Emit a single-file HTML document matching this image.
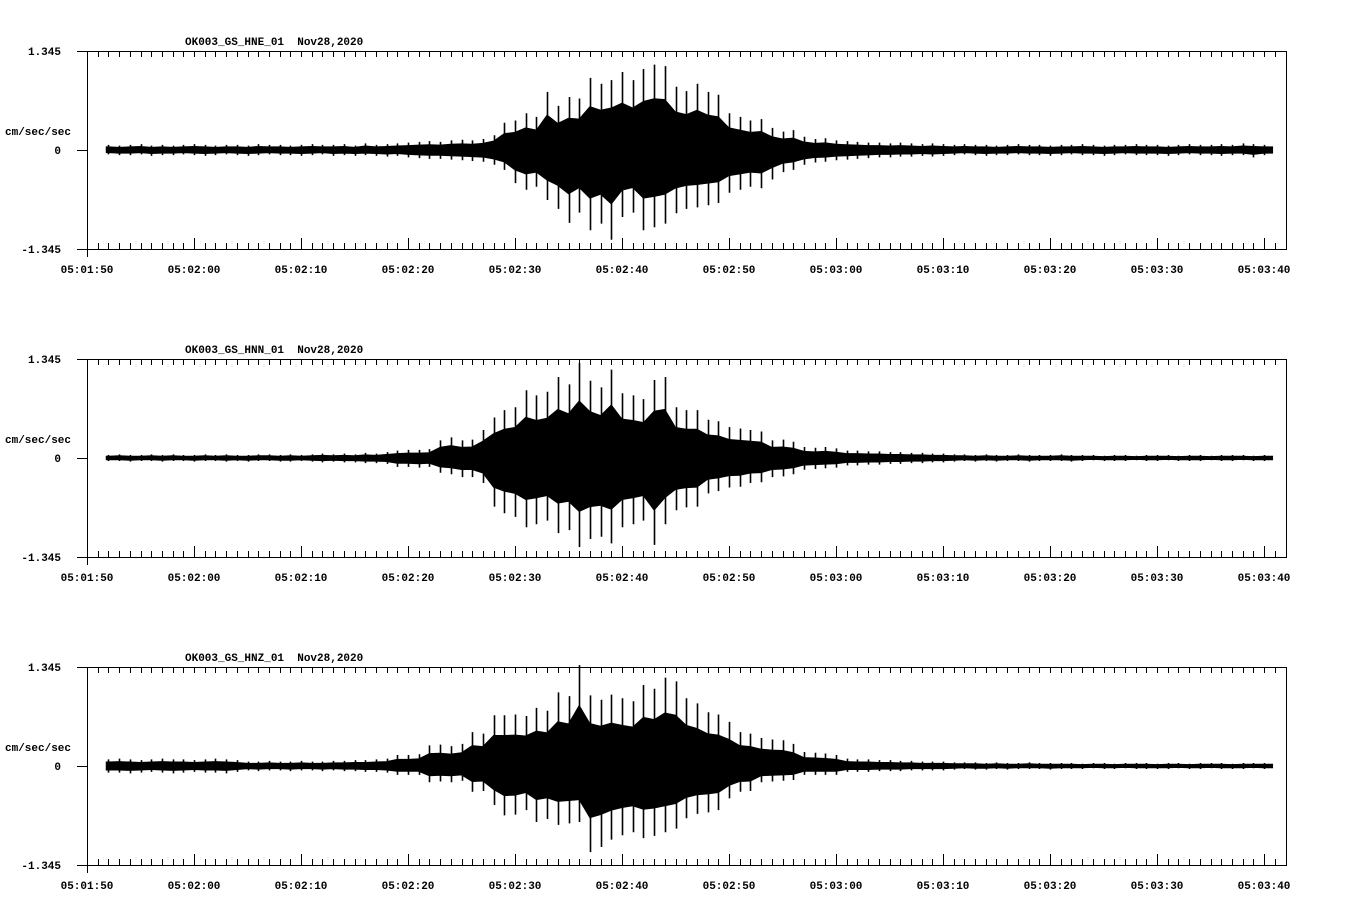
<!DOCTYPE html>
<html><head><meta charset="utf-8"><style>
html,body{margin:0;padding:0;background:#fff;}
svg{display:block;}
text{font-family:"Liberation Mono",monospace;font-weight:bold;font-size:11px;fill:#000;}
</style></head>
<body>
<svg id="chart" width="1358" height="924" xmlns="http://www.w3.org/2000/svg"></svg>
<script>
// Time (seconds after 05:01:50) of each amplitude sample
const seconds = [];
for (let s = 2; s <= 110; s++) seconds.push(s);
const tickLabels = ["05:01:50","05:02:00","05:02:10","05:02:20","05:02:30","05:02:40","05:02:50","05:03:00","05:03:10","05:03:20","05:03:30","05:03:40"];
const yTickLabels = ["1.345","0","-1.345"];
const channelNames = ["OK003_GS_HNE_01","OK003_GS_HNN_01","OK003_GS_HNZ_01"];
const dateLabel = "Nov28,2020";
const yMax = 1.345;

const hneUp = [0.07,0.06,0.07,0.08,0.06,0.07,0.06,0.07,0.08,0.07,0.06,0.07,0.07,0.06,0.08,0.07,0.07,0.06,0.07,0.08,0.07,0.07,0.08,0.06,0.09,0.07,0.08,0.09,
0.10,0.11,0.12,0.11,0.13,0.14,0.13,0.15,0.20,
0.37,0.40,0.50,0.45,0.79,0.60,0.72,0.70,0.98,0.90,0.95,
1.06,0.95,1.10,1.16,1.14,0.86,0.80,0.90,0.79,0.75,0.50,
0.45,0.40,0.42,0.30,0.25,0.27,0.18,0.15,0.16,0.13,
0.12,0.11,0.10,0.10,0.09,0.10,0.09,0.08,0.09,0.08,
0.07,0.08,0.07,0.07,0.06,0.07,0.08,0.07,0.07,0.06,0.07,0.07,0.08,0.07,0.06,0.07,0.07,0.08,0.07,0.07,0.06,0.07,0.08,0.07,0.07,0.08,0.07,0.09,0.08,0.07];
const hneDown = [0.06,0.07,0.07,0.06,0.08,0.07,0.07,0.06,0.07,0.08,0.07,0.06,0.07,0.08,0.07,0.06,0.07,0.07,0.08,0.07,0.06,0.08,0.07,0.08,0.07,0.08,0.09,0.08,
0.10,0.11,0.12,0.12,0.13,0.14,0.15,0.16,0.20,
0.27,0.45,0.54,0.50,0.68,0.80,0.99,0.85,1.09,1.00,1.22,
0.91,0.85,1.09,1.05,1.00,0.86,0.80,0.78,0.75,0.72,0.58,
0.54,0.50,0.52,0.40,0.30,0.27,0.20,0.17,0.16,0.14,
0.13,0.12,0.11,0.10,0.10,0.09,0.09,0.08,0.09,0.08,
0.07,0.06,0.07,0.08,0.07,0.07,0.06,0.07,0.07,0.08,0.07,0.06,0.07,0.07,0.08,0.07,0.06,0.07,0.07,0.07,0.08,0.07,0.06,0.07,0.07,0.08,0.07,0.07,0.10,0.07];

const hnnUp = [0.04,0.05,0.04,0.04,0.05,0.04,0.05,0.04,0.04,0.05,0.04,0.05,0.04,0.04,0.05,0.05,0.04,0.05,0.04,0.05,0.06,0.05,0.06,0.05,0.07,0.06,0.08,
0.10,0.11,0.11,0.12,0.24,0.28,0.24,0.25,0.38,0.55,
0.65,0.69,0.92,0.85,0.90,1.10,1.00,1.29,1.05,0.96,1.20,
0.88,0.85,0.80,1.06,1.10,0.69,0.65,0.65,0.52,0.50,0.42,
0.40,0.38,0.36,0.24,0.25,0.22,0.15,0.14,0.15,0.13,
0.10,0.10,0.09,0.09,0.08,0.08,0.07,0.07,0.06,0.06,
0.05,0.05,0.04,0.05,0.04,0.04,0.05,0.04,0.04,0.04,0.05,0.04,0.04,0.04,0.03,0.04,0.04,0.03,0.04,0.04,0.04,0.03,0.04,0.04,0.03,0.04,0.04,0.04,0.03,0.04];
const hnnDown = [0.04,0.04,0.05,0.04,0.04,0.05,0.04,0.04,0.05,0.04,0.04,0.05,0.04,0.05,0.04,0.04,0.05,0.05,0.04,0.05,0.06,0.05,0.06,0.06,0.07,0.07,0.08,
0.12,0.12,0.13,0.12,0.20,0.22,0.26,0.26,0.34,0.66,
0.75,0.80,0.94,0.90,0.85,1.02,0.98,1.21,1.10,1.07,1.16,
0.94,0.90,0.85,1.18,0.90,0.71,0.67,0.66,0.48,0.45,0.40,
0.39,0.34,0.33,0.26,0.25,0.22,0.16,0.15,0.14,0.13,
0.10,0.10,0.09,0.09,0.08,0.08,0.07,0.07,0.06,0.06,
0.05,0.04,0.05,0.04,0.05,0.04,0.04,0.05,0.04,0.04,0.04,0.05,0.04,0.03,0.04,0.04,0.04,0.03,0.04,0.04,0.03,0.04,0.04,0.04,0.03,0.04,0.04,0.03,0.04,0.04];

const hnzUp = [0.09,0.10,0.09,0.08,0.09,0.10,0.09,0.09,0.08,0.09,0.10,0.09,0.08,
0.06,0.06,0.07,0.06,0.06,0.07,0.06,0.06,0.07,0.07,0.08,0.08,0.09,0.10,
0.15,0.15,0.16,0.28,0.29,0.27,0.30,0.46,0.44,0.69,
0.69,0.70,0.68,0.79,0.75,1.00,0.95,1.37,0.96,0.90,0.97,
0.92,0.88,1.10,1.05,1.20,1.15,0.92,0.85,0.73,0.70,0.60,
0.46,0.44,0.38,0.36,0.35,0.30,0.19,0.18,0.17,0.15,
0.10,0.09,0.09,0.08,0.08,0.07,0.07,0.06,0.06,0.06,
0.05,0.05,0.05,0.04,0.05,0.04,0.04,0.05,0.04,0.04,0.04,0.04,0.03,0.04,0.04,0.03,0.04,0.04,0.04,0.03,0.04,0.04,0.03,0.04,0.04,0.04,0.03,0.04,0.04,0.04];
const hnzDown = [0.09,0.09,0.10,0.09,0.08,0.09,0.10,0.09,0.08,0.09,0.09,0.10,0.08,
0.06,0.07,0.06,0.06,0.07,0.06,0.06,0.07,0.06,0.07,0.07,0.08,0.08,0.09,
0.12,0.12,0.12,0.22,0.21,0.22,0.20,0.35,0.34,0.53,
0.67,0.66,0.60,0.76,0.72,0.80,0.78,0.76,1.17,1.10,1.00,
0.94,0.90,0.98,0.95,0.90,0.85,0.71,0.65,0.63,0.60,0.44,
0.35,0.34,0.22,0.21,0.20,0.19,0.12,0.12,0.12,0.12,
0.08,0.08,0.08,0.07,0.07,0.07,0.06,0.06,0.06,0.06,
0.05,0.04,0.05,0.05,0.04,0.05,0.04,0.04,0.04,0.05,0.04,0.04,0.04,0.03,0.04,0.04,0.03,0.04,0.04,0.04,0.04,0.03,0.04,0.04,0.03,0.04,0.04,0.04,0.03,0.04];

const svg = document.getElementById('chart');
const NS = 'http://www.w3.org/2000/svg';
const X0 = 87, PX_PER_S = 10.7, XR = 1286, PANEL_H = 198, PANEL_STEP = 308, TOP0 = 51;
const CORE = 0.6; // dense-core fraction of peak envelope (rendering only)
function xs(t){ return X0 + t * PX_PER_S; }
function mk(tag, attrs, parent){ const e = document.createElementNS(NS, tag); for (const k in attrs) e.setAttribute(k, attrs[k]); (parent||svg).appendChild(e); return e; }

const ups = [hneUp, hnnUp, hnzUp];
const downs = [hneDown, hnnDown, hnzDown];

for (let p = 0; p < 3; p++) {
  const top = TOP0 + p * PANEL_STEP, bot = top + PANEL_H, mid = top + PANEL_H / 2;
  const ys = v => mid - v * (PANEL_H / 2) / yMax;
  const g = mk('g', {});
  
  

  let d = `M${X0 + 0.5},${top + 0.5}H${XR + 0.5}V${bot + 0.5}H${X0 + 0.5}Z`;
  const frame = mk('path', {d: d, fill: 'none', stroke: '#000', 'stroke-width': 1}, g);
  
  

  let td = '';
  for (let s = 1; s < 112; s++) {
    const x = Math.round(xs(s)) + 0.5;
    td += `M${x},${top}v6`;
    if (s % 10 === 0) td += `M${x},${bot}v-11`; else td += `M${x},${bot}v-6`;
  }
  td += `M${X0 - 10},${top + 0.5}h10M${X0 - 10},${mid + 0.5}h10M${X0 - 10},${bot + 0.5}h10`;
  td += `M${X0 + 0.5},${bot}v8`;
  const ticks = mk('path', {d: td, stroke: '#000', 'stroke-width': 1, fill: 'none'}, g);
  
  

  for (let i = 0; i < tickLabels.length; i++) {
    const t = mk('text', {x: xs(i * 10), y: bot + 24, 'text-anchor': 'middle'}, g);
    t.textContent = tickLabels[i];
    
    
  }
  const yPos = [top, mid, bot];
  for (let i = 0; i < 3; i++) {
    const t = mk('text', {x: 61, y: yPos[i] + 4, 'text-anchor': 'end'}, g);
    t.textContent = yTickLabels[i];
    
    
  }
  const yt = mk('text', {x: 5, y: mid - 15}, g);
  yt.textContent = 'cm/sec/sec';
  
  
  const title = mk('text', {x: 185, y: top - 6}, g);
  title.textContent = channelNames[p] + '  ' + dateLabel;
  title.style.whiteSpace = 'pre';
  
  

  const up = ups[p], dn = downs[p];
  let pts = [];
  pts.push(`${xs(1.8)},${ys(up[0] * CORE)}`);
  for (let i = 0; i < seconds.length; i++) pts.push(`${xs(seconds[i])},${ys(up[i] * CORE)}`);
  pts.push(`${xs(110.8)},${ys(up[up.length - 1] * CORE)}`);
  pts.push(`${xs(110.8)},${ys(-dn[dn.length - 1] * CORE)}`);
  for (let i = seconds.length - 1; i >= 0; i--) pts.push(`${xs(seconds[i])},${ys(-dn[i] * CORE)}`);
  pts.push(`${xs(1.8)},${ys(-dn[0] * CORE)}`);
  const trace = mk('polygon', {points: pts.join(' '), fill: '#000', stroke: '#000', 'stroke-width': 1}, g);
  
  

  let sd = '';
  for (let i = 0; i < seconds.length; i++) {
    const x = Math.round(xs(seconds[i])) + 0.5;
    sd += `M${x},${ys(up[i])}V${ys(-dn[i])}`;
  }
  const spikes = mk('path', {d: sd, stroke: '#000', 'stroke-width': 1.6, fill: 'none'}, g);
  
  
}
</script>
</body></html>
